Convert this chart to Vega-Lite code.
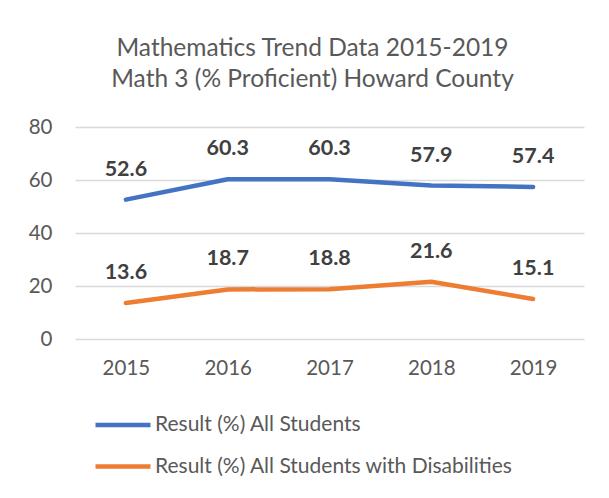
{
  "$schema": "https://vega.github.io/schema/vega-lite/v6.json",
  "width": 509,
  "height": 212,
  "autosize": {"type": "none"},
  "padding": {"left": 75, "top": 127, "right": 25, "bottom": 159},
  "background": "white",
  "config": {
    "font": "Lato",
    "view": {"stroke": null},
    "axis": {"labelColor": "#595959", "labelFont": "Lato", "labelFontSize": 20.5, "domain": false, "ticks": false, "title": null}
  },
  "title": {
    "text": ["Mathematics Trend Data 2015-2019", "Math 3 (% Proficient) Howard County"],
    "fontSize": 24.5,
    "fontWeight": "normal",
    "color": "#595959",
    "font": "Lato",
    "lineHeight": 31,
    "anchor": "middle",
    "dx": -17,
    "offset": 25
  },
  "data": {
    "values": [
      {"year": "2015", "series": "Result (%) All Students", "value": 52.6},
      {"year": "2016", "series": "Result (%) All Students", "value": 60.3},
      {"year": "2017", "series": "Result (%) All Students", "value": 60.3},
      {"year": "2018", "series": "Result (%) All Students", "value": 57.9},
      {"year": "2019", "series": "Result (%) All Students", "value": 57.4},
      {"year": "2015", "series": "Result (%) All Students with Disabilities", "value": 13.6},
      {"year": "2016", "series": "Result (%) All Students with Disabilities", "value": 18.7},
      {"year": "2017", "series": "Result (%) All Students with Disabilities", "value": 18.8},
      {"year": "2018", "series": "Result (%) All Students with Disabilities", "value": 21.6},
      {"year": "2019", "series": "Result (%) All Students with Disabilities", "value": 15.1}
    ]
  },
  "encoding": {
    "x": {"field": "year", "type": "ordinal", "scale": {"type": "point", "padding": 0.5},
          "axis": {"labelAngle": 0, "labelPadding": 19, "grid": false}},
    "y": {"field": "value", "type": "quantitative", "scale": {"domain": [0, 80]},
          "axis": {"values": [0, 20, 40, 60, 80], "labelPadding": 23, "grid": true, "gridColor": "#D9D9D9", "gridWidth": 1.3}},
    "color": {"field": "series", "type": "nominal",
              "scale": {"domain": ["Result (%) All Students", "Result (%) All Students with Disabilities"], "range": ["#4472C4", "#ED7D31"]},
              "legend": {"title": null, "orient": "none", "legendX": 32, "legendY": 282, "direction": "vertical",
                         "symbolType": "M-2,0L2,0", "symbolSize": 756, "symbolStrokeWidth": 4.5,
                         "labelFontSize": 21, "labelColor": "#595959", "labelFont": "Lato", "labelOffset": 16, "labelLimit": 0, "rowPadding": 15.5}}
  },
  "layer": [
    {"mark": {"type": "line", "strokeWidth": 4.5, "strokeCap": "round", "strokeJoin": "round"}},
    {"mark": {"type": "text", "dy": -30, "fontSize": 21.5, "fontWeight": "bold", "color": "#404040", "font": "Lato", "baseline": "middle"},
     "encoding": {"text": {"field": "value", "type": "quantitative", "format": ".1f"}, "color": {"value": "#404040"}}}
  ]
}
